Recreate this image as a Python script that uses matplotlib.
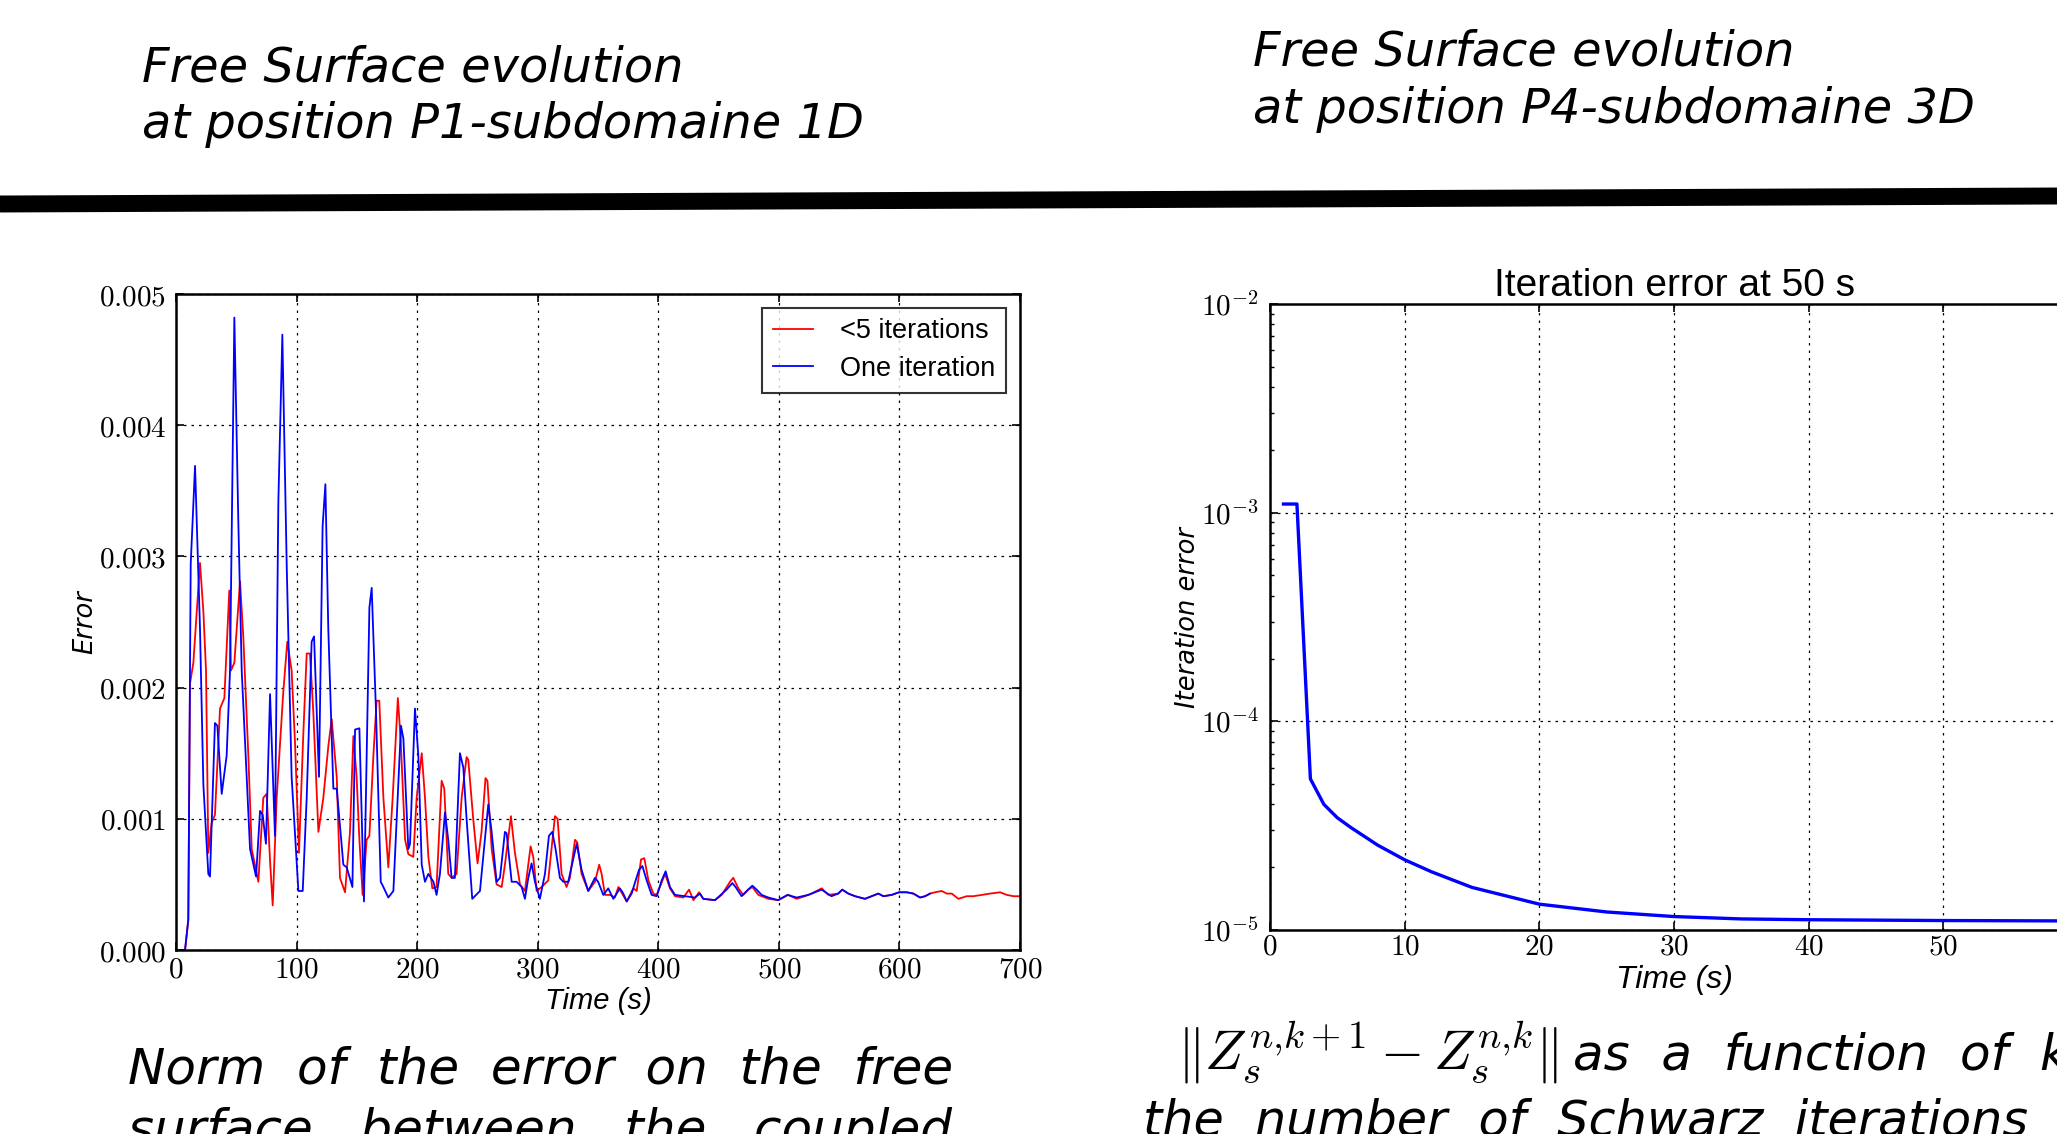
import math
import matplotlib
matplotlib.use('Agg')
from matplotlib import pyplot as plt
from matplotlib.lines import Line2D
from matplotlib.ticker import FuncFormatter, MultipleLocator

# left panel: norm of the free surface error (values in units of 1e-3)
red_t = [7.5, 10.2, 11.6, 14.4, 19.9, 22.7, 24.9, 26.8, 29.6, 32.3,
         36.5, 40.1, 44.2, 45.6, 48.4, 53.1, 55.8, 60.0, 62.8, 68.3,
         72.4, 75.2, 78.0, 80.2, 83.5, 89.0, 92.3, 95.9, 98.7, 102.0,
         105.6, 108.4, 111.1, 113.9, 118.1, 122.2, 126.3, 129.1, 133.3, 136.0,
         140.2, 144.3, 147.1, 149.8, 152.1, 154.8, 158.1, 160.4, 163.7, 166.4,
         168.6, 172.0, 176.1, 179.7, 184.0, 186.3, 190.0, 192.7, 196.8, 199.6,
         203.8, 206.5, 209.3, 212.6, 216.1, 220.3, 222.5, 225.8, 228.6, 232.7,
         236.9, 241.0, 242.4, 246.5, 250.1, 253.4, 256.7, 258.3, 261.8, 265.9,
         270.1, 272.8, 277.8, 281.1, 285.3, 289.4, 294.1, 296.3, 299.1, 303.2,
         308.7, 314.3, 316.5, 319.8, 323.9, 326.7, 330.9, 332.8, 336.4, 341.9,
         347.5, 351.0, 353.0, 355.8, 359.9, 364.0, 366.9, 373.8, 379.3, 382.1,
         385.7, 388.4, 391.8, 395.9, 398.7, 405.6, 409.7, 413.9, 420.8, 425.5,
         429.1, 433.8, 437.3, 447.0, 452.6, 459.5, 462.2, 466.4, 470.5, 474.6,
         478.0, 483.0, 491.3, 499.4, 507.7, 514.7, 521.6, 527.1, 535.5, 541.0,
         549.2, 552.6, 557.6, 563.2, 571.4, 577.0, 582.5, 586.7, 593.6, 599.7,
         606.1, 611.6, 617.1, 621.3, 625.4, 629.5, 635.1, 639.2, 643.4, 648.9,
         655.8, 661.4, 668.3, 675.2, 683.5, 689.0, 694.6, 700.0]
red_v = [0, 0.23, 2.03, 2.19, 2.95, 2.58, 2.13, 0.74, 0.97, 1.03,
         1.84, 1.92, 2.74, 2.13, 2.19, 2.81, 2.39, 1.48, 0.77, 0.52,
         1.16, 1.19, 0.68, 0.34, 1.16, 1.97, 2.35, 2.13, 1.58, 0.74,
         1.65, 2.26, 2.26, 1.81, 0.90, 1.16, 1.55, 1.76, 1.32, 0.55,
         0.44, 0.90, 1.63, 1.32, 0.84, 0.42, 0.84, 0.87, 1.48, 1.90,
         1.90, 1.16, 0.63, 1.16, 1.92, 1.61, 0.84, 0.73, 0.71, 1.16,
         1.50, 1.16, 0.71, 0.47, 0.48, 1.29, 1.23, 0.58, 0.55, 0.58,
         1.16, 1.47, 1.45, 1.00, 0.66, 0.90, 1.31, 1.29, 0.77, 0.50,
         0.48, 0.65, 1.02, 0.74, 0.50, 0.45, 0.79, 0.71, 0.45, 0.48,
         0.53, 1.02, 1.00, 0.58, 0.48, 0.55, 0.84, 0.82, 0.58, 0.45,
         0.52, 0.65, 0.58, 0.42, 0.42, 0.40, 0.48, 0.37, 0.47, 0.45,
         0.69, 0.70, 0.53, 0.43, 0.42, 0.58, 0.47, 0.41, 0.40, 0.46,
         0.38, 0.44, 0.39, 0.38, 0.42, 0.52, 0.55, 0.47, 0.42, 0.46,
         0.48, 0.42, 0.39, 0.38, 0.42, 0.39, 0.41, 0.43, 0.47, 0.42,
         0.43, 0.46, 0.43, 0.41, 0.39, 0.41, 0.43, 0.41, 0.42, 0.44,
         0.44, 0.43, 0.40, 0.41, 0.43, 0.44, 0.45, 0.43, 0.43, 0.39,
         0.41, 0.41, 0.42, 0.43, 0.44, 0.42, 0.41, 0.41]

blue_t = [7.5, 10.2, 12.2, 15.8, 19.9, 22.7, 26.8, 28.2, 32.3, 34.3,
          37.9, 42.0, 44.8, 48.4, 51.7, 54.5, 61.4, 66.4, 69.7, 71.9,
          74.6, 78.0, 82.1, 84.9, 88.2, 91.8, 95.9, 101.5, 105.1, 108.4,
          112.5, 114.5, 118.6, 121.6, 123.9, 126.3, 130.5, 133.3, 138.8, 141.6,
          146.3, 148.5, 152.1, 155.9, 160.4, 162.3, 165.9, 169.8, 172.0, 176.1,
          180.3, 186.6, 188.6, 192.7, 194.1, 198.2, 201.0, 203.8, 206.5, 209.3,
          213.5, 216.1, 218.9, 223.1, 225.8, 228.6, 231.3, 235.5, 238.3, 241.0,
          245.7, 252.1, 256.2, 259.0, 261.8, 265.9, 268.7, 272.8, 274.2, 278.4,
          282.5, 286.7, 289.4, 292.2, 294.9, 297.7, 301.8, 306.0, 309.3, 312.1,
          314.8, 318.4, 321.2, 325.3, 332.3, 336.4, 341.9, 347.5, 350.1, 354.4,
          358.5, 362.7, 368.2, 371.0, 373.8, 377.9, 381.2, 384.0, 386.8, 390.4,
          394.5, 398.7, 402.8, 406.1, 409.7, 413.9, 422.1, 430.4, 434.6, 437.3,
          447.0, 456.6, 461.4, 464.1, 469.1, 473.3, 478.0, 481.6, 485.7, 491.3,
          499.4, 507.2, 514.7, 524.4, 535.5, 543.6, 549.2, 552.6, 557.6, 563.2,
          571.4, 577.0, 582.5, 586.7, 593.6, 599.7, 606.1, 611.6, 617.1, 621.3,
          625.4]
blue_v = [0, 0.23, 2.94, 3.69, 2.45, 1.26, 0.58, 0.56, 1.73, 1.71,
          1.19, 1.48, 2.13, 4.82, 3.26, 2.13, 0.77, 0.56, 1.06, 1.03,
          0.81, 1.95, 0.87, 3.42, 4.69, 2.94, 1.32, 0.45, 0.45, 1.16,
          2.35, 2.39, 1.32, 3.23, 3.55, 2.45, 1.23, 1.23, 0.65, 0.63,
          0.48, 1.68, 1.69, 0.37, 2.61, 2.76, 1.81, 0.52, 0.48, 0.40,
          0.45, 1.71, 1.61, 0.77, 0.81, 1.84, 1.48, 0.65, 0.52, 0.58,
          0.52, 0.42, 0.58, 1.05, 0.84, 0.55, 0.55, 1.50, 1.39, 1.00,
          0.39, 0.45, 0.84, 1.11, 0.90, 0.52, 0.55, 0.90, 0.89, 0.52,
          0.52, 0.48, 0.39, 0.55, 0.66, 0.52, 0.39, 0.58, 0.87, 0.90,
          0.77, 0.55, 0.52, 0.52, 0.81, 0.61, 0.45, 0.55, 0.52, 0.42,
          0.47, 0.39, 0.47, 0.43, 0.37, 0.43, 0.53, 0.61, 0.64, 0.53,
          0.42, 0.41, 0.53, 0.60, 0.48, 0.42, 0.41, 0.40, 0.43, 0.39,
          0.38, 0.46, 0.51, 0.48, 0.41, 0.45, 0.49, 0.46, 0.42, 0.40,
          0.38, 0.42, 0.40, 0.42, 0.46, 0.41, 0.43, 0.46, 0.43, 0.41,
          0.39, 0.41, 0.43, 0.41, 0.42, 0.44, 0.44, 0.43, 0.40, 0.41,
          0.43]

# right panel: iteration error at 50 s
iter_k = [1, 2, 3, 4, 5, 6, 8, 10, 12, 15, 20, 25, 30, 35, 40, 50, 60]
iter_err = [1.1e-3, 1.1e-3, 5.3e-5, 4.0e-5, 3.45e-5, 3.1e-5, 2.55e-5, 2.17e-5,
            1.9e-5, 1.6e-5, 1.33e-5, 1.22e-5, 1.16e-5, 1.13e-5, 1.12e-5,
            1.11e-5, 1.105e-5]

W, H = 2057, 1134

plt.rcParams['mathtext.fontset'] = 'cm'
plt.rcParams['xtick.direction'] = 'in'
plt.rcParams['ytick.direction'] = 'in'
plt.rcParams['xtick.top'] = True
plt.rcParams['ytick.right'] = True

fig = plt.figure(figsize=(W / 100, H / 100), dpi=100)


def fx(px):
    return px / W


def fy(py):
    return 1 - py / H


cap = dict(family='DejaVu Sans', style='italic', color='black')

# headings of the previous row
fig.text(fx(142), fy(81), 'Free Surface evolution', fontsize=34.5, va='baseline', **cap)
fig.text(fx(142), fy(138), 'at position P1-subdomaine 1D', fontsize=34.5, va='baseline', **cap)
fig.text(fx(1253), fy(65), 'Free Surface evolution', fontsize=34.5, va='baseline', **cap)
fig.text(fx(1253), fy(123), 'at position P4-subdomaine 3D', fontsize=34.5, va='baseline', **cap)

# thick separator
fig.add_artist(Line2D([0, 1], [fy(204), fy(196)], transform=fig.transFigure,
                      color='black', lw=12.2, solid_capstyle='butt'))

sans = 'Liberation Sans'

# ---- left panel
ax = fig.add_axes([fx(176), fy(950), fx(1020) - fx(176), fy(294) - fy(950)])
ax.plot(red_t, [v * 1e-3 for v in red_v], color='red', lw=1.3, label='<5 iterations')
ax.plot(blue_t, [v * 1e-3 for v in blue_v], color='blue', lw=1.3, label='One iteration')
ax.set_xlim(0, 700)
ax.set_ylim(0, 0.005)
ax.xaxis.set_major_locator(MultipleLocator(100))
ax.yaxis.set_major_locator(MultipleLocator(0.001))
ax.xaxis.set_major_formatter(FuncFormatter(lambda v, p: r'$%d$' % v))
ax.yaxis.set_major_formatter(FuncFormatter(lambda v, p: r'$%.3f$' % v))
ax.tick_params(labelsize=21, length=6, width=1.2, pad=7)
ax.tick_params(axis='x', pad=4)
ax.grid(True, color='black', linestyle=(0, (2, 4)), lw=0.9)
for s in ax.spines.values():
    s.set_linewidth(1.8)
ax.set_xlabel('Time (s)', family=sans, style='italic', fontsize=21, va='center')
ax.xaxis.set_label_coords(0.5, -0.078)
ax.set_ylabel('Error', family='DejaVu Sans', style='italic', fontsize=18.5, va='center')
ax.yaxis.set_label_coords(-0.108, 0.5)
leg = ax.legend(loc='upper right', prop={'family': sans, 'size': 19.5},
                fancybox=False, handlelength=1.5, handletextpad=1.0,
                borderaxespad=0.5, labelspacing=0.42)
leg.get_frame().set_edgecolor('black')
leg.get_frame().set_linewidth(1.5)

fig.text(fx(128), fy(1083), 'Norm  of  the  error  on  the  free', fontsize=36,
         va='baseline', **cap)
fig.text(fx(128), fy(1145), 'surface   between   the   coupled', fontsize=36,
         va='baseline', **cap)

# ---- right panel
ax2 = fig.add_axes([fx(1270), fy(930), 808 / W, fy(304) - fy(930)])
ax2.plot(iter_k, iter_err, color='blue', lw=2.4)
ax2.set_yscale('log')
ax2.set_xlim(0, 60)
ax2.set_ylim(1e-5, 1e-2)
ax2.xaxis.set_major_locator(MultipleLocator(10))
ax2.xaxis.set_major_formatter(FuncFormatter(lambda v, p: r'$%d$' % v))
ax2.yaxis.set_major_formatter(FuncFormatter(lambda v, p: r'$10^{%d}$' % round(math.log10(v))))
ax2.tick_params(labelsize=21, length=6, width=1.2, pad=8)
ax2.tick_params(axis='x', pad=2)
ax2.tick_params(which='minor', length=3, width=1.0)
ax2.grid(True, which='major', color='black', linestyle=(0, (2, 4)), lw=0.9)
for s in ax2.spines.values():
    s.set_linewidth(1.8)
ax2.set_title('Iteration error at 50 s', family=sans, fontsize=28, pad=6)
ax2.set_xlabel('Time (s)', family=sans, style='italic', fontsize=23, va='center')
ax2.xaxis.set_label_coords(0.5, -0.08)
ax2.set_ylabel('Iteration error', family='DejaVu Sans', style='italic', fontsize=18.5, va='center')
ax2.yaxis.set_label_coords(-0.1015, 0.5)

fig.text(fx(1177), fy(1070), r'$\Vert Z_s^{n{,}k+1}-Z_s^{n{,}k}\Vert$', fontsize=40,
         va='baseline', color='black')
fig.text(fx(1573), fy(1070), 'as  a  function  of  k', fontsize=36, va='baseline', **cap)
fig.text(fx(1143), fy(1135), 'the  number  of  Schwarz  iterations', fontsize=35.5,
         va='baseline', **cap)

fig.savefig('out.png', dpi=100)
